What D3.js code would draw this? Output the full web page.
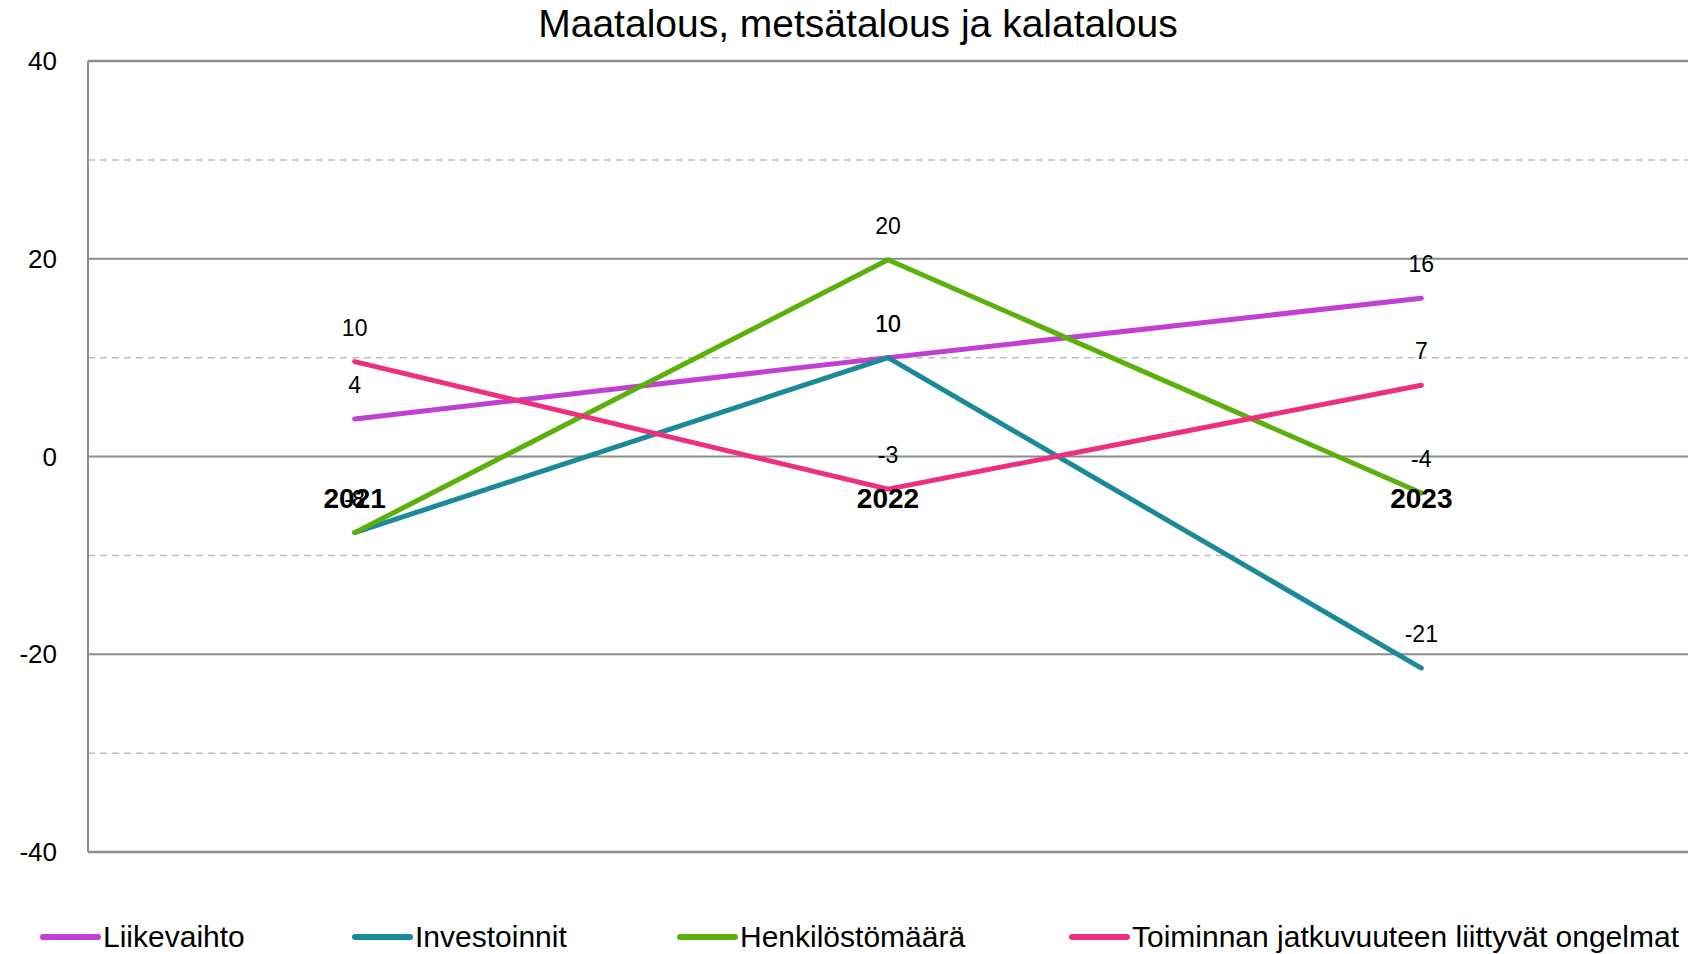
<!DOCTYPE html>
<html lang="fi">
<head>
<meta charset="utf-8" />
<title>Maatalous, metsätalous ja kalatalous</title>
<script src="https://cdn.jsdelivr.net/npm/d3@7/dist/d3.min.js"></script>
<style>
  body { margin: 0; background: #fff; }
  svg { display: block; font-family: "Liberation Sans", Arial, sans-serif; }
  .title { font-size: 39px; fill: #000; }
  .ytick { font-size: 26px; fill: #000; }
  .xcat { font-size: 28px; font-weight: bold; fill: #000; }
  .dlabel { font-size: 23px; fill: #000; }
  .legend text { font-size: 30px; fill: #000; }
  .series { fill: none; stroke-width: 5px; stroke-linecap: round; stroke-linejoin: round; }
</style>
</head>
<body>
<svg id="chart" width="1688" height="954"></svg>
<script>
// ---- data ----
const years = ['2021', '2022', '2023'];
const seriesNames = ['Liikevaihto', 'Investoinnit', 'Henkilöstömäärä', 'Toiminnan jatkuvuuteen liittyvät ongelmat'];
const liikevaihto   = [3.8, 10.0, 16.0];
const investoinnit  = [-7.7, 10.0, -21.4];
const henkilosto    = [-7.7, 19.9, -3.7];
const jatkuvuus     = [9.6, -3.3, 7.2];
const majorTicks = [-40, -20, 0, 20, 40];
const minorTicks = [-30, -10, 10, 30];

const seriesValues = [liikevaihto, investoinnit, henkilosto, jatkuvuus];
const colors = ['#c13fd2', '#1b8a98', '#5cb00b', '#ee2e7f'];

const W = 1688, H = 954;
const m = { left: 88, top: 61, right: 0, bottom: 102 };

const svg = d3.select('#chart');

const x = d3.scaleBand().domain(years).range([m.left, W - m.right]).padding(0);
const y = d3.scaleLinear().domain([-40, 40]).range([H - m.bottom, m.top]);

/* ---- title ---- */
svg.append('text').attr('class', 'title')
  .attr('x', 858).attr('y', 37).attr('text-anchor', 'middle')
  .text('Maatalous, metsätalous ja kalatalous');

/* ---- gridlines ---- */
svg.append('g').selectAll('line.minor')
  .data(minorTicks).join('line')
  .attr('x1', m.left).attr('x2', W - m.right)
  .attr('y1', d => y(d)).attr('y2', d => y(d))
  .attr('stroke', '#bfbfbf').attr('stroke-width', 1.5)
  .attr('stroke-dasharray', '7,5');

svg.append('g').selectAll('line.major')
  .data(majorTicks).join('line')
  .attr('x1', m.left).attr('x2', W - m.right)
  .attr('y1', d => y(d)).attr('y2', d => y(d))
  .attr('stroke', '#8c8c8c')
  .attr('stroke-width', d => (d === 40 || d === -40) ? 2.5 : 1.8);

// left axis line
svg.append('line')
  .attr('x1', m.left).attr('x2', m.left)
  .attr('y1', y(40)).attr('y2', y(-40))
  .attr('stroke', '#8c8c8c').attr('stroke-width', 2);

/* ---- y tick labels ---- */
svg.append('g').selectAll('text')
  .data(majorTicks).join('text')
  .attr('class', 'ytick')
  .attr('x', 57).attr('y', d => y(d))
  .attr('text-anchor', 'end').attr('dominant-baseline', 'central')
  .text(d => d);

/* ---- series lines ---- */
const line = d3.line()
  .x((d, i) => x(years[i]) + x.bandwidth() / 2)
  .y(d => y(d));

svg.append('g').selectAll('path')
  .data(seriesValues).join('path')
  .attr('class', 'series')
  .attr('stroke', (d, i) => colors[i])
  .attr('d', d => line(d));

/* ---- data labels (plain hyphen for minus, as in the original) ---- */
const fmt = d3.formatLocale({ decimal: ',', thousands: ' ', grouping: [3], currency: ['', ' €'], minus: '-' }).format('.0f');
seriesValues.forEach(vals => {
  svg.append('g').selectAll('text')
    .data(vals).join('text')
    .attr('class', 'dlabel')
    .attr('x', (d, i) => x(years[i]) + x.bandwidth() / 2)
    .attr('y', d => y(d) - 34)
    .attr('text-anchor', 'middle').attr('dominant-baseline', 'central')
    .text(d => fmt(d));
});

/* ---- category labels next to the zero line ---- */
svg.append('g').selectAll('text')
  .data(years).join('text')
  .attr('class', 'xcat')
  .attr('x', d => x(d) + x.bandwidth() / 2)
  .attr('y', y(0) + 42)
  .attr('text-anchor', 'middle').attr('dominant-baseline', 'central')
  .text(d => d);

/* ---- legend ---- */
const legendX = [43, 355, 680, 1072];
const lg = svg.append('g').attr('class', 'legend');
seriesNames.forEach((name, i) => {
  const g = lg.append('g').attr('transform', `translate(${legendX[i]},937)`);
  g.append('line')
    .attr('x1', 0).attr('x2', 55).attr('y1', 0).attr('y2', 0)
    .attr('stroke', colors[i]).attr('stroke-width', 6).attr('stroke-linecap', 'round');
  g.append('text').attr('x', 60).attr('y', 10).text(name);
});
</script>
</body>
</html>
